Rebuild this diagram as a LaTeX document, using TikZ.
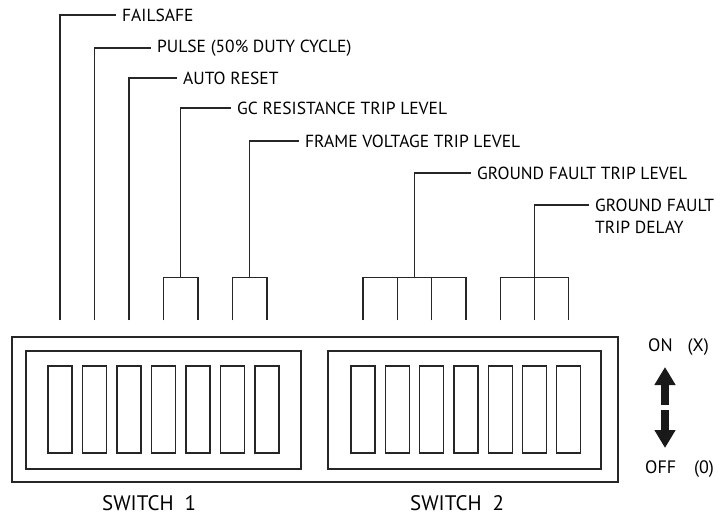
\documentclass[tikz,border=0pt]{standalone}
\usepackage{fontspec}
\setmainfont{PT Sans}
\usetikzlibrary{arrows.meta,calc}
\tikzset{
  lead/.style={line width=1.3pt,draw=black!85},
  lever/.style={lead,minimum width=24pt,minimum height=87pt,inner sep=0pt},
  tag/.style={anchor=west,inner xsep=6pt,inner ysep=0pt,align=left,font=\fontsize{17.5}{22}\selectfont},
  caption/.style={anchor=west,inner sep=0pt,font=\fontsize{21}{22}\selectfont},
  state/.style={anchor=west,inner sep=0pt,font=\fontsize{18}{20}\selectfont},
  bigarrow/.style={line width=8pt,draw=black!90,-{Triangle[length=18pt,width=20pt]}}
}

\begin{document}
\begin{tikzpicture}[x=1pt,y=-1pt]
  \useasboundingbox (0,0) rectangle (724,516);

  % housing and the two switch blocks
  \draw[lead] (12,337) rectangle (618,482);
  \draw[lead] (26,351) rectangle (301,469);
  \draw[lead] (328,351) rectangle (601,469);

  % levers and the tops of their leads
  \foreach \i in {1,...,7}{
    \node[lever] (a\i) at ({60+34.5*(\i-1)},409.5) {};
    \node[lever] (b\i) at ({363+34.3*(\i-1)},409.5) {};
    \coordinate (ta\i) at ($(a\i.north)+(0,-45)$);
    \coordinate (tb\i) at ($(b\i.north)+(0,-45)$);
  }

  % function labels
  \node[tag] (fs) at (116,15) {FAILSAFE};
  \node[tag] (pu) at (151,48) {PULSE (50\% DUTY CYCLE)};
  \node[tag] (ar) at (177,78) {AUTO RESET};
  \node[tag] (gc) at (231,108) {GC RESISTANCE TRIP LEVEL};
  \node[tag] (fv) at (299,141) {FRAME VOLTAGE TRIP LEVEL};
  \node[tag] (gl) at (471,173) {GROUND FAULT TRIP LEVEL};
  \node[tag] (gd) at (589,216) {GROUND FAULT\\TRIP DELAY};

  % switch 1 leads
  \draw[lead] (ta1) |- (fs.west);
  \draw[lead] (ta2) |- (pu.west);
  \draw[lead] (ta3) |- (ar.west);
  \coordinate (gcb) at ($(ta4)!.5!(ta5)+(0,-43)$);
  \draw[lead] (ta4) |- (gcb) -| (ta5);
  \draw[lead] (gcb) |- (gc.west);
  \coordinate (fvb) at ($(ta6)!.5!(ta7)+(0,-43)$);
  \draw[lead] (ta6) |- (fvb) -| (ta7);
  \draw[lead] (fvb) |- (fv.west);

  % switch 2 leads
  \coordinate (glb) at ($(tb1)!.5!(tb4)+(0,-43)$);
  \draw[lead] (tb1) |- (glb) -| (tb4);
  \draw[lead] (tb2) -- (tb2 |- glb);
  \draw[lead] (tb3) -- (tb3 |- glb);
  \draw[lead] (glb) |- (gl.west);
  \coordinate (gdb) at ($(tb5)!.5!(tb7)+(0,-43)$);
  \draw[lead] (tb5) |- (gdb) -| (tb7);
  \draw[lead] (tb6) -- (gdb);
  \draw[lead] (gdb) |- ([yshift=11pt]gd.west);

  % captions
  \node[caption] (sw1) at (102,503) {SWITCH\hspace{11pt}1};
  \node[caption] (sw2) at (410,503) {SWITCH\hspace{11pt}2};

  % on / off indicator
  \node[state] (on) at (648,347) {ON\hspace{15pt}(X)};
  \node[state] (off) at (645,469) {OFF\hspace{18pt}(0)};
  \coordinate (mid) at (665,407.5);
  \draw[bigarrow] ($(mid)+(0,-2.5)$) -- ($(mid)+(0,-40.5)$);
  \draw[bigarrow] ($(mid)+(0,2.5)$) -- ($(mid)+(0,40.5)$);
\end{tikzpicture}
\end{document}
